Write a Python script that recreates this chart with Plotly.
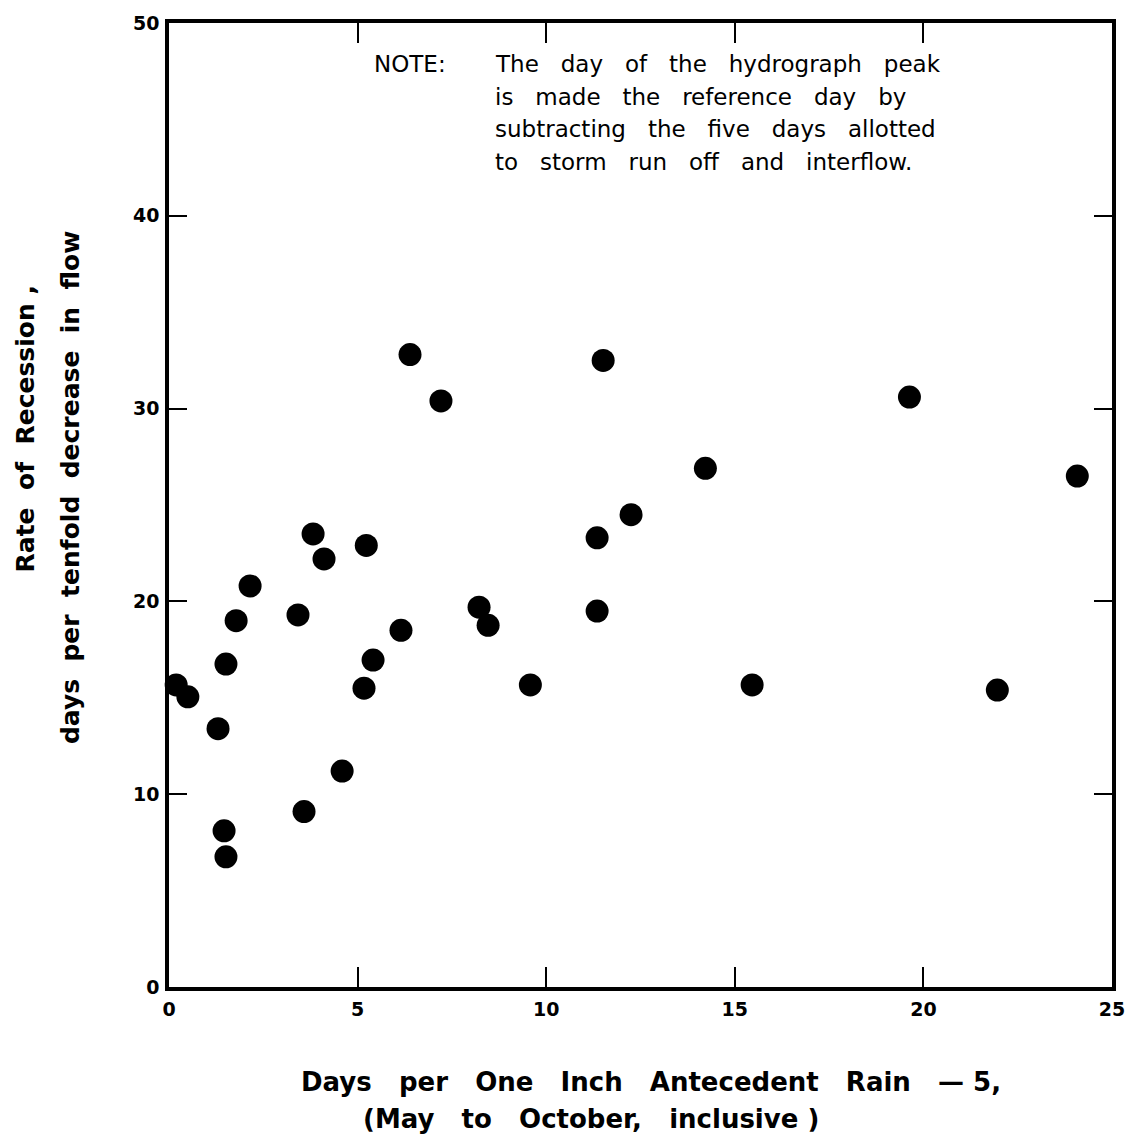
import plotly.graph_objects as go

# Days per one inch antecedent rain - 5
x_days = [0.19, 0.5, 1.3, 1.51, 1.78, 2.15, 1.46, 1.51, 3.42, 3.82, 4.11, 3.58, 4.59,
          5.23, 5.17, 5.41, 6.15, 6.39, 7.21, 8.22, 8.46, 9.58, 11.35, 11.35, 11.51,
          12.25, 14.22, 15.46, 19.63, 21.96, 24.08]
# Rate of recession, days per tenfold decrease in flow
y_rate = [15.67, 15.05, 13.4, 16.75, 19.0, 20.8, 8.1, 6.75, 19.3, 23.5, 22.2, 9.1, 11.2,
          22.9, 15.5, 16.96, 18.5, 32.8, 30.4, 19.7, 18.76, 15.67, 23.3, 19.5, 32.5,
          24.5, 26.9, 15.67, 30.6, 15.4, 26.5]

x_ticks = [0, 5, 10, 15, 20, 25]
y_ticks = [0, 10, 20, 30, 40, 50]

note_head = "NOTE:"
note_lines = [
    "The   day   of   the   hydrograph   peak",
    "is   made   the   reference   day   by",
    "subtracting   the   five   days   allotted",
    "to   storm   run   off   and   interflow.",
]
y_title = ["Rate  of  Recession ,", "days  per  tenfold  decrease  in  flow"]
x_title = ["Days   per   One   Inch   Antecedent   Rain   \u2014 5,", "(May   to   October,   inclusive )"]

L, R, T, B = 169, 28, 17, 157
W, H = 1140, 1144
pw, ph = W - L - R, H - T - B


def px(xp):
    return (xp - L) / pw


def py(yp):
    return 1 - (yp - T) / ph


fig = go.Figure()
fig.add_trace(go.Scatter(
    x=x_days, y=y_rate, mode="markers",
    marker=dict(color="black", size=23, symbol="circle", line=dict(width=0)),
    showlegend=False, cliponaxis=False,
))

tickfont = dict(family="DejaVu Sans", size=19, color="black", weight="bold")
axis_common = dict(
    showgrid=False, zeroline=False, showline=True, linecolor="black", linewidth=3.5,
    mirror="allticks", ticks="inside", tickwidth=1.5, tickcolor="black",
    tickfont=tickfont,
)
fig.update_xaxes(range=[0, 25], tickvals=x_ticks, ticklen=20, ticklabelstandoff=2, **axis_common)
fig.update_yaxes(range=[0, 50], tickvals=y_ticks, ticklen=18, ticklabelstandoff=2, **axis_common)

ann = []
note_font = dict(family="DejaVu Sans", size=23, color="black")
ann.append(dict(x=px(372), y=py(58), xref="paper", yref="paper", xanchor="left", yanchor="middle",
                text=note_head, showarrow=False, font=note_font))
for i, line in enumerate(note_lines):
    ann.append(dict(x=px(493), y=py(58 + 33 * i), xref="paper", yref="paper", xanchor="left",
                    yanchor="middle", text=line, showarrow=False, font=note_font))

title_font = dict(family="DejaVu Sans", size=25, color="black", weight="bold")
x_title_font = dict(family="DejaVu Sans", size=26, color="black", weight="bold")
ann.append(dict(x=px(25), y=py(426), xref="paper", yref="paper", xanchor="center", yanchor="middle",
                text=y_title[0], textangle=-90, showarrow=False, font=title_font))
ann.append(dict(x=px(70), y=py(485), xref="paper", yref="paper", xanchor="center", yanchor="middle",
                text=y_title[1], textangle=-90, showarrow=False, font=title_font))
ann.append(dict(x=px(651), y=py(1083), xref="paper", yref="paper", xanchor="center", yanchor="middle",
                text=x_title[0], showarrow=False, font=x_title_font))
ann.append(dict(x=px(591), y=py(1120), xref="paper", yref="paper", xanchor="center", yanchor="middle",
                text=x_title[1], showarrow=False, font=x_title_font))

fig.update_layout(
    width=W, height=H, margin=dict(l=L, r=R, t=T, b=B),
    plot_bgcolor="white", paper_bgcolor="white",
    annotations=ann,
)
fig.write_html("out.html")
